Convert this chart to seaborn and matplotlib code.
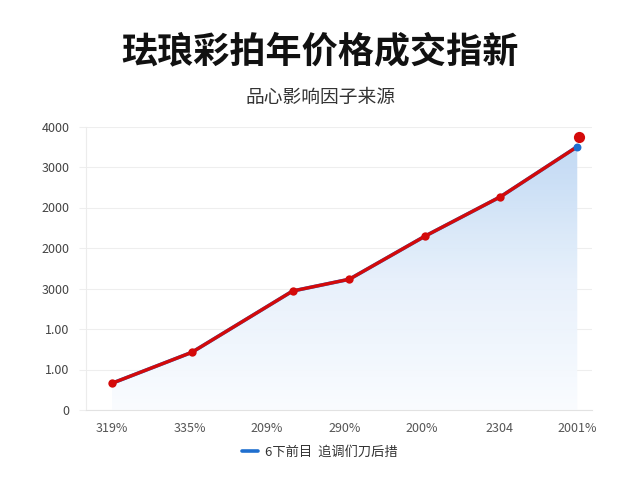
import numpy as np
import pandas as pd
import matplotlib
matplotlib.use('Agg')
import matplotlib.pyplot as plt
from matplotlib.colors import LinearSegmentedColormap
import seaborn as sns

# === Data === #
x_pos = [0.0, 1.03, 2.33, 3.06, 4.04, 5.01, 6.0]
index_val = [330, 712, 1469, 1614, 2148, 2633, 3251]
peak_x = [6.02]
peak_y = [3367]

x_ticks = [0, 1, 2, 3, 4, 5, 6]
x_labels = ['319%', '335%', '209%', '290%', '200%', '2304', '2001%']
y_ticks = [0, 500, 1000, 1500, 2000, 2500, 3000, 3500]
y_labels = ['0', '1.00', '1.00', '3000', '2000', '2000', '3000', '4000']

title = '珐琅彩拍年价格成交指新'
subtitle = '品心影响因子来源'
legend_label = '6下前目  追调们刀后措'

df = pd.DataFrame({'x': x_pos, 'value': index_val})

sns.set_theme(style='white')
plt.rcParams['font.family'] = ['Noto Sans CJK SC', 'DejaVu Sans']

fig = plt.figure(figsize=(6.4, 4.8), dpi=100)
ax = fig.add_axes([86 / 640, 70 / 480, 506 / 640, 283.5 / 480])

# gradient area under the index line
poly = ax.fill_between(df['x'], df['value'], 0, facecolor='none', edgecolor='none')
cmap = LinearSegmentedColormap.from_list('area', ['#fafcff', '#e6f0fb', '#bfd8f4'])
grad = np.linspace(0, 1, 256).reshape(-1, 1)
img = ax.imshow(grad, cmap=cmap, origin='lower', aspect='auto',
                extent=[df['x'].min(), df['x'].max() + 0.03, 0, max(index_val)],
                zorder=1, alpha=0.95)
img.set_clip_path(poly.get_paths()[0], transform=ax.transData)

# blue series (legend) and red overlay
sns.lineplot(data=df, x='x', y='value', ax=ax, color='#1f6fcf', linewidth=1.4,
             label=legend_label, zorder=3)
ax.scatter(df['x'].iloc[-1:], df['value'].iloc[-1:], s=22, color='#1f6fcf', zorder=5)
sns.lineplot(data=df, x='x', y='value', ax=ax, color='#d40a0a', linewidth=2.4,
             marker='o', markersize=6, markeredgewidth=0, markevery=list(range(len(df) - 1)),
             legend=False, zorder=4)
sns.scatterplot(x=peak_x, y=peak_y, ax=ax, color='#d40a0a', s=65, linewidth=0, zorder=6)

ax.set_xlim(-0.335, 6.19)
ax.set_ylim(0, 3500)
ax.set_xticks(x_ticks)
ax.set_xticklabels(x_labels)
ax.set_yticks(y_ticks)
ax.set_yticklabels(y_labels)
ax.set_xlabel('')
ax.set_ylabel('')

ax.grid(axis='y', color='#eeeeee', linewidth=0.8, zorder=0)
ax.grid(axis='x', visible=False)
ax.set_axisbelow(True)
for side in ['top', 'right']:
    ax.spines[side].set_visible(False)
ax.spines['left'].set_color('#ececec')
ax.spines['bottom'].set_color('#e2e2e2')
ax.spines['left'].set_linewidth(0.8)
ax.spines['bottom'].set_linewidth(0.8)
ax.tick_params(axis='y', length=5, width=0.8, color='#eeeeee', pad=7,
               labelsize=9, labelcolor='#444444', left=True)
ax.tick_params(axis='x', length=0, pad=9, labelsize=9, labelcolor='#555555')

ax.get_legend().remove()
handles, labels = ax.get_legend_handles_labels()
handles[0].set_linewidth(2.6)
fig.legend(handles[:1], labels[:1], loc='center', bbox_to_anchor=(0.5, 1 - 452 / 480),
           frameon=False, fontsize=9.5, handlelength=1.2, handletextpad=0.5,
           labelcolor='#333333')

fig.text(0.5, 1 - 52 / 480, title, ha='center', va='center', fontsize=26,
         fontweight='bold', color='#111111')
fig.text(0.5, 1 - 97 / 480, subtitle, ha='center', va='center', fontsize=13.5,
         color='#333333')

fig.savefig('out.png', dpi=100, facecolor='white')
